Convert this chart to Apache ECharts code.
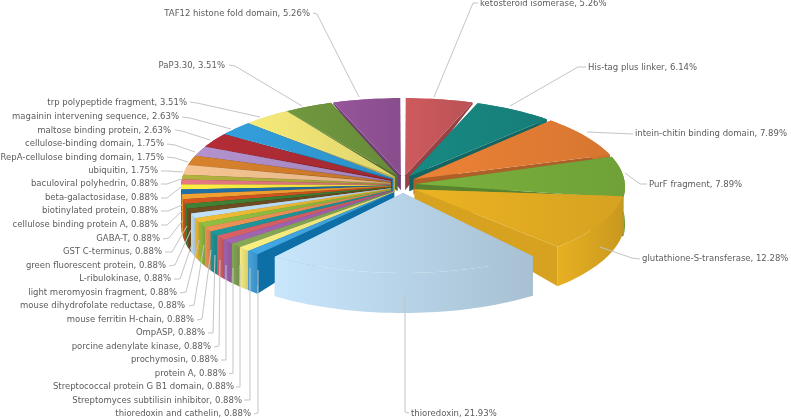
<!DOCTYPE html>
<html>
<head>
<meta charset="utf-8">
<style>html,body{margin:0;padding:0;background:#fff}#chart{width:791px;height:418px;filter:blur(0.35px)}</style>
<script src="https://cdn.jsdelivr.net/npm/echarts@6/dist/echarts.min.js"></script>
</head>
<body>
<div id="chart"></div>
<script>
// clockwise from 12 o'clock
var names = ['ketosteroid isomerase','His-tag plus linker','intein-chitin binding domain','PurF fragment','glutathione-S-transferase','thioredoxin',
    'thioredoxin and cathelin','Streptomyces subtilisin inhibitor','Streptococcal protein G B1 domain','protein A','prochymosin','porcine adenylate kinase','OmpASP','mouse ferritin H-chain','mouse dihydrofolate reductase','light meromyosin fragment','L-ribulokinase','green fluorescent protein','GST C-terminus','GABA-T','cellulose binding protein A','biotinylated protein','beta-galactosidase','baculoviral polyhedrin',
    'ubiquitin','RepA-cellulose binding domain','cellulose-binding domain','maltose binding protein','magainin intervening sequence','trp polypeptide fragment','PaP3.30','TAF12 histone fold domain'];
var percents = [5.26,6.14,7.89,7.89,12.28,21.93,
    0.88,0.88,0.88,0.88,0.88,0.88,0.88,0.88,0.88,0.88,0.88,0.88,0.88,0.88,0.88,0.88,0.88,0.88,
    1.75,1.75,1.75,2.63,2.63,3.51,3.51,5.26];
var colors = ['#c25559','#17827c','#e07b33','#74a83a','#dfa921','#b9d5e9',
    '#3f9fd9','#ece27c','#7f9f52','#9a5fa8','#cd5c62','#1d8f93','#e18b52','#8ab43c','#e2b233','#b6d5ea','#6b4a20','#3c7c32','#c9511f','#e69a30','#1f6a9f','#f0e23f','#da727c','#a9a83a',
    '#e9ba8b','#cc7b2a','#a98ac2','#a92a33','#2f96d0','#e8dd72','#6b903b','#8e5092'];
// end of label text [x, y], then leader line points
var labelPos = [[480,4],[588,68],[635,134],[649,185],[642,259],[411,414],
    [251,414],[242,401],[234,387],[226,374],[218,360],[211,347],[205,333],[194,320],[185,306],[177,293],[171,279],[166,266],[162,252],[160,239],[158,225],[158,211],[158,198],[158,184],
    [158,171],[164,158],[164,144],[171,131],[179,117],[187,103],[225,66],[310,14]];
var leaders = [[[478,3],[473,3],[434,97]],[[586,67],[578,67],[510,106]],[[633,134],[587,132]],[[647,184],[640,184],[625,173]],[[640,259],[632,258],[600,247]],[[409,413],[405,412],[405,294]],
    [[254,414],[258,413],[258,270]],[[244,400],[250,400],[250,268]],[[236,387],[240,387],[240,265]],[[229,374],[233,373],[233,268]],[[221,360],[226,360],[226,265]],[[214,347],[219,346],[220,260]],[[208,333],[213,333],[215,255]],[[197,320],[202,319],[211,250]],[[189,306],[194,305],[204,245]],[[180,293],[186,292],[199,240]],[[174,279],[180,279],[195,235]],[[169,266],[175,265],[191,230]],[[165,252],[172,252],[187,226]],[[163,239],[169,238],[183,220]],[[161,225],[167,225],[182,211]],[[161,211],[168,211],[182,205]],[[161,198],[167,198],[181,187]],[[161,184],[167,184],[181,179]],
    [[161,171],[168,171],[183,172]],[[167,157],[175,158],[188,162]],[[167,144],[175,145],[195,152]],[[175,130],[182,131],[210,140]],[[182,117],[190,118],[231,129]],[[190,102],[197,103],[260,117]],[[229,65],[235,66],[302,106]],[[313,13],[317,14],[359,97]]];

var CX = 403, CY = 187, RX = 222, RY = 89, APEX_Y = 175, APEX_H = 15;
// slices that do not sit on the plain ellipse in the picture
var tweaks = {
    'thioredoxin': {a0: 1.5, a1: 5, dy: -3, apexX: 403, apexY: 193, light: 1.08, dim: 0.9},
    'glutathione-S-transferase': {a1: 5.5, dy: -4, cut: '#d6a220'},
    'thioredoxin and cathelin': {cut: '#0e6ea6'}
};

var total = 0, starts = [];
for(var i = 0; i < percents.length; i++) {
    starts.push(total);
    total += percents[i];
}

//k>1 lighter, k<1 darker
function shade(color, k) {
    var c = echarts.color.parse(color);
    return 'rgb(' + Math.min(255, Math.round(c[0] * k)) + ',' + Math.min(255, Math.round(c[1] * k)) + ',' + Math.min(255, Math.round(c[2] * k)) + ')';
}

function wallHeight(a) {
    var c = Math.cos(a);
    return c > 0 ? 38 * (1 - c) : 38 - 2 * c;
}

function hGradient(from, to) {
    return {type: 'linear', x: 0, y: 0, x2: 1, y2: 0, colorStops: [{offset: 0, color: from}, {offset: 1, color: to}]};
}

function renderSlice(params, api) {
    var i = params.dataIndex, val = api.value(0), t = tweaks[names[i]] || {};
    var gap = val >= 5 ? 0.7 : 0;
    var a0 = (starts[i] / total * 360 + gap + (t.a0 || 0)) * Math.PI / 180;
    var a1 = ((starts[i] + val) / total * 360 - gap - (t.a1 || 0)) * Math.PI / 180;
    var mid = (a0 + a1) / 2, dx = t.dx || 0, dy = t.dy || 0;
    var apex = [t.apexX || CX + 13 * Math.sin(mid), t.apexY || APEX_Y + 10 * (1 - Math.cos(mid))];
    var top = [], bottom = [], n = Math.max(2, Math.ceil((a1 - a0) / 0.03));
    for(var k = 0; k <= n; k++) {
        var a = a0 + (a1 - a0) * k / n;
        var x = CX + dx + RX * Math.sin(a), y = CY + dy - RY * Math.cos(a);
        top.push([x, y]);
        bottom.push([x, y + wallHeight(a)]);
    }
    var z = Math.round((1 - Math.cos(mid)) * 100) * 4 + 10;
    var base = colors[i];
    var cutColor = t.cut || shade(base, Math.cos(mid) < -0.3 ? 0.88 : 0.78);
    var apexB = [apex[0], apex[1] + APEX_H];
    function poly(points, fill, zz) {
        return {type: 'polygon', z2: z + zz, silent: true, shape: {points: points}, style: {fill: fill, stroke: null}};
    }
    var outer = top.concat(bottom.slice().reverse());
    return {type: 'group', children: [
        poly([apex, top[0], bottom[0], apexB], cutColor, 0),
        poly([apex, top[n], bottom[n], apexB], cutColor, 0),
        poly(outer, hGradient(shade(base, t.light || 1.04), shade(base, t.dim || 0.9)), 1),
        poly([apex].concat(top), hGradient(shade(base, t.light || 1.06), shade(base, t.dim || 0.96)), 2)
    ]};
}

function renderLabel(params, api) {
    var i = params.dataIndex;
    var right = i < 6;
    return {type: 'group', children: [
        {type: 'polyline', z2: 900, silent: true, shape: {points: leaders[i]}, style: {stroke: '#c4c4c4', lineWidth: 1, fill: null}},
        {type: 'text', z2: 901, silent: true, style: {
            x: labelPos[i][0], y: labelPos[i][1],
            text: names[i] + ', ' + api.value(0).toFixed(2) + '%',
            align: right ? 'left' : 'right', verticalAlign: 'middle',
            font: '8.5px "DejaVu Sans"', fill: '#5c5c5c'
        }}
    ]};
}

var seriesData = percents.map(function(v) { return [v]; });
var myChart = echarts.init(document.getElementById('chart'));
myChart.setOption({
    animation: false,
    backgroundColor: '#fff',
    series: [
        {type: 'custom', coordinateSystem: 'none', renderItem: renderSlice, data: seriesData},
        {type: 'custom', coordinateSystem: 'none', renderItem: renderLabel, data: seriesData}
    ]
});
</script>
</body>
</html>
